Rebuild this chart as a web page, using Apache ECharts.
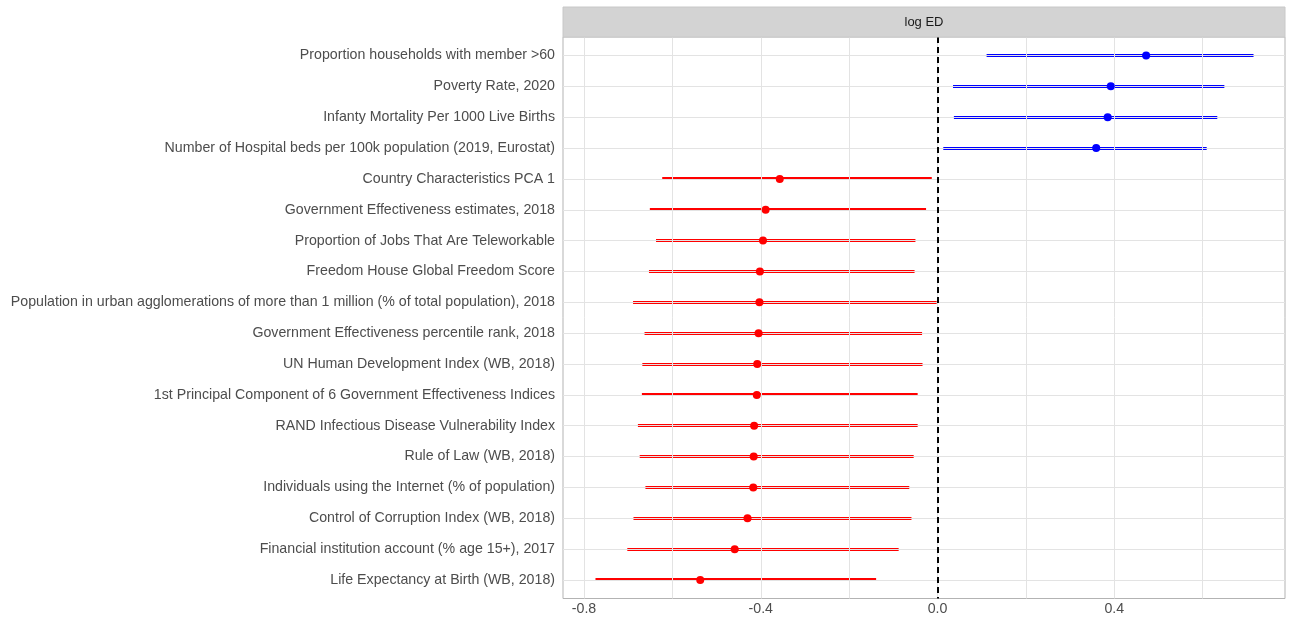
<!DOCTYPE html>
<html>
<head>
<meta charset="utf-8">
<title>log ED</title>
<script src="https://cdn.jsdelivr.net/npm/echarts@6/dist/echarts.min.js"></script>
<style>
  html, body { margin: 0; padding: 0; background: #ffffff; }
  #chart { width: 1291px; height: 622px; }
</style>
</head>
<body>
<div id="chart"></div>
<script>
// Predictors, top to bottom
const labels = [
  'Proportion households with member >60',
  'Poverty Rate, 2020',
  'Infanty Mortality Per 1000 Live Births',
  'Number of Hospital beds per 100k population (2019, Eurostat)',
  'Country Characteristics PCA 1',
  'Government Effectiveness estimates, 2018',
  'Proportion of Jobs That Are Teleworkable',
  'Freedom House Global Freedom Score',
  'Population in urban agglomerations of more than 1 million (% of total population), 2018',
  'Government Effectiveness percentile rank, 2018',
  'UN Human Development Index (WB, 2018)',
  '1st Principal Component of 6 Government Effectiveness Indices',
  'RAND Infectious Disease Vulnerability Index',
  'Rule of Law (WB, 2018)',
  'Individuals using the Internet (% of population)',
  'Control of Corruption Index (WB, 2018)',
  'Financial institution account (% age 15+), 2017',
  'Life Expectancy at Birth (WB, 2018)'
];

// Point estimates and interval bounds
const estimate = [0.472, 0.392, 0.385, 0.359, -0.357, -0.389, -0.395, -0.402, -0.403,
                  -0.405, -0.408, -0.409, -0.415, -0.416, -0.417, -0.430, -0.459, -0.537];
const lower    = [0.111, 0.035, 0.037, 0.013, -0.623, -0.651, -0.637, -0.653, -0.689,
                  -0.663, -0.668, -0.669, -0.678, -0.674, -0.661, -0.688, -0.702, -0.774];
const upper    = [0.715, 0.649, 0.633, 0.609, -0.013, -0.026, -0.050, -0.052, -0.002,
                  -0.035, -0.034, -0.045, -0.045, -0.054, -0.064, -0.059, -0.088, -0.139];

// Axis breaks
const xMajorTicks = [-0.8, -0.4, 0.0, 0.4];
const xMinorTicks = [-0.6, -0.2, 0.2, 0.6];
const xRange = [-0.8475, 0.7862];
const facetTitle = 'log ED';

const POS_COLOR = '#0000FF';
const NEG_COLOR = '#FF0000';
const GRID = { left: 563, right: 6, top: 37, bottom: 23.5 };
const STRIP_TOP = 7;
const W = 1291;
const TEXT_FONT = '"Liberation Sans", Arial, Helvetica, sans-serif';
const AXIS_FONT_SIZE = 14.2;
const BAR_THICKNESS = 3;

const rowIdx = labels.map((_, i) => i);
const colorFor = v => (v > 0 ? POS_COLOR : NEG_COLOR);

const gridLineData = []
  .concat(xMajorTicks.concat(xMinorTicks).map(v => ({ xAxis: v })))
  .concat(rowIdx.map(i => ({ yAxis: i })));

const chart = echarts.init(document.getElementById('chart'), null, { renderer: 'canvas' });

chart.setOption({
  animation: false,
  backgroundColor: '#ffffff',
  textStyle: { fontFamily: TEXT_FONT },
  grid: {
    left: GRID.left, right: GRID.right, top: GRID.top, bottom: GRID.bottom,
    show: true, borderColor: '#B3B3B3', borderWidth: 1, backgroundColor: '#ffffff'
  },
  graphic: [
    {
      type: 'rect', z: 10,
      shape: { x: GRID.left, y: STRIP_TOP, width: W - GRID.left - GRID.right, height: GRID.top - STRIP_TOP },
      style: { fill: '#D3D3D3', stroke: '#C8C8C8', lineWidth: 1 }
    },
    {
      type: 'text', z: 11,
      x: GRID.left + (W - GRID.left - GRID.right) / 2,
      y: STRIP_TOP + (GRID.top - STRIP_TOP) / 2,
      style: {
        text: facetTitle, fill: '#1A1A1A', fontSize: 13, fontFamily: TEXT_FONT,
        align: 'center', verticalAlign: 'middle'
      }
    }
  ],
  xAxis: {
    type: 'value',
    min: xRange[0], max: xRange[1],
    axisLine: { show: false },
    splitLine: { show: false },
    axisTick: { show: true, customValues: xMajorTicks, length: 4, lineStyle: { color: '#B3B3B3', width: 1 } },
    axisLabel: {
      customValues: xMajorTicks, color: '#4D4D4D', fontSize: AXIS_FONT_SIZE, margin: 4,
      fontFamily: TEXT_FONT,
      formatter: v => v.toFixed(1)
    }
  },
  yAxis: {
    type: 'value',
    min: -0.6, max: labels.length - 0.4,
    inverse: true,
    axisLine: { show: false },
    splitLine: { show: false },
    axisTick: { show: true, customValues: rowIdx, length: 4, lineStyle: { color: '#B3B3B3', width: 1 } },
    axisLabel: {
      customValues: rowIdx, color: '#4D4D4D', fontSize: AXIS_FONT_SIZE, margin: 8,
      fontFamily: TEXT_FONT, padding: [3, 0, 0, 0],
      formatter: v => labels[Math.round(v)] || ''
    }
  },
  series: [
    {
      // panel grid lines
      type: 'scatter', data: [], silent: true, z: 1,
      markLine: {
        silent: true, symbol: ['none', 'none'], animation: false,
        label: { show: false },
        emphasis: { disabled: true },
        lineStyle: { color: '#E3E3E3', width: 1, type: 'solid' },
        data: gridLineData
      }
    },
    {
      // zero reference line
      type: 'scatter', data: [], silent: true, z: 3,
      markLine: {
        silent: true, symbol: ['none', 'none'], animation: false,
        label: { show: false },
        emphasis: { disabled: true },
        lineStyle: { color: '#000000', width: 2, type: [6, 4] },
        data: [{ xAxis: 0 }]
      }
    },
    {
      // confidence intervals, snapped to whole pixel rows so they stay crisp
      type: 'custom', z: 4, silent: true, progressive: 0,
      data: rowIdx.map(i => [lower[i], upper[i], i, estimate[i]]),
      encode: { x: [0, 1], y: 2 },
      renderItem: (params, api) => {
        const a = api.coord([api.value(0), api.value(2)]);
        const b = api.coord([api.value(1), api.value(2)]);
        const y0 = Math.round(a[1] - BAR_THICKNESS / 2);
        return {
          type: 'rect',
          shape: { x: a[0], y: y0, width: b[0] - a[0], height: BAR_THICKNESS },
          style: { fill: colorFor(api.value(3)), stroke: null, opacity: 1 }
        };
      }
    },
    {
      // point estimates
      type: 'scatter', z: 5, silent: true,
      symbol: 'circle', symbolSize: 8,
      itemStyle: { opacity: 1 },
      data: rowIdx.map(i => ({ value: [estimate[i], i], itemStyle: { color: colorFor(estimate[i]), opacity: 1 } }))
    }
  ]
});
</script>
</body>
</html>
